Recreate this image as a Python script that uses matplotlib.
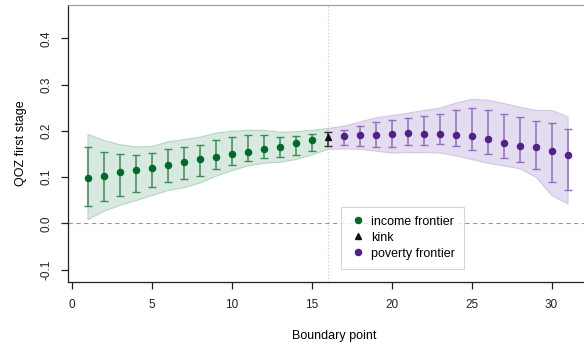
import matplotlib.pyplot as plt
import numpy as np

# boundary points
income_x = list(range(1, 16))
kink_x = [16]
poverty_x = list(range(17, 32))

# point estimates
income_est = [0.098, 0.102, 0.110, 0.115, 0.120, 0.127, 0.133, 0.139, 0.144,
              0.149, 0.154, 0.160, 0.166, 0.173, 0.180]
kink_est = [0.187]
poverty_est = [0.188, 0.190, 0.191, 0.193, 0.195, 0.193, 0.192, 0.191, 0.189,
               0.183, 0.174, 0.168, 0.165, 0.156, 0.147]

# error bar bounds
income_hi = [0.166, 0.155, 0.150, 0.148, 0.151, 0.161, 0.165, 0.170, 0.180,
             0.187, 0.190, 0.190, 0.187, 0.189, 0.194]
income_lo = [0.037, 0.049, 0.058, 0.068, 0.078, 0.089, 0.095, 0.102, 0.117,
             0.126, 0.135, 0.141, 0.143, 0.147, 0.156]
kink_hi = [0.198]
kink_lo = [0.167]
poverty_hi = [0.202, 0.210, 0.219, 0.223, 0.227, 0.231, 0.236, 0.245, 0.250,
              0.246, 0.236, 0.229, 0.221, 0.217, 0.203]
poverty_lo = [0.169, 0.168, 0.165, 0.164, 0.169, 0.170, 0.171, 0.167, 0.158,
              0.150, 0.142, 0.133, 0.118, 0.089, 0.071]

# shaded bands
income_band_x = list(range(1, 17))
income_band_hi = [0.193, 0.180, 0.171, 0.166, 0.167, 0.177, 0.182, 0.187, 0.196,
                  0.200, 0.202, 0.202, 0.198, 0.199, 0.202, 0.206]
income_band_lo = [0.009, 0.027, 0.040, 0.050, 0.061, 0.072, 0.078, 0.088, 0.103,
                  0.115, 0.125, 0.131, 0.133, 0.139, 0.149, 0.161]
poverty_band_x = list(range(16, 32))
poverty_band_hi = [0.206, 0.211, 0.220, 0.229, 0.234, 0.239, 0.245, 0.250, 0.261,
                   0.269, 0.267, 0.260, 0.252, 0.245, 0.245, 0.231]
poverty_band_lo = [0.161, 0.162, 0.161, 0.157, 0.153, 0.154, 0.154, 0.153, 0.147,
                   0.139, 0.131, 0.125, 0.119, 0.101, 0.061, 0.043]

green = "#00692b"
green_bar = "#3d8a5c"
green_fill = "#d8eadf"
purple = "#4e2385"
purple_bar = "#8f6fc0"
purple_fill = "#e4dcef"

plt.rcParams["font.family"] = ["Liberation Sans", "DejaVu Sans"]

fig = plt.figure(figsize=(5.84, 3.47), dpi=100)
ax = fig.add_axes([68 / 584, 65 / 347, 532 / 584, 277 / 347])

ax.fill_between(income_band_x, income_band_lo, income_band_hi,
                facecolor=green_fill, edgecolor="#b5d6c2", linewidth=0.8, zorder=1)
ax.fill_between(poverty_band_x, poverty_band_lo, poverty_band_hi,
                facecolor=purple_fill, edgecolor="#d2c6e4", linewidth=0.8, zorder=1)

ax.axhline(0, color="#999999", linestyle=(0, (4, 3)), linewidth=0.8, zorder=0)
ax.axvline(16, color="#cccccc", linestyle=":", linewidth=0.9, zorder=0)

def draw(x, est, lo, hi, c_pt, c_bar, marker, label):
    err = [np.array(est) - np.array(lo), np.array(hi) - np.array(est)]
    ax.errorbar(x, est, yerr=err, fmt="none", ecolor=c_bar, elinewidth=1.1,
                capsize=2.8, capthick=1.0, zorder=2)
    ax.plot(x, est, linestyle="", marker=marker, color=c_pt, markersize=4.4,
            label=label, zorder=3)

draw(income_x, income_est, income_lo, income_hi, green, green_bar, "o", "income frontier")
draw(kink_x, kink_est, kink_lo, kink_hi, "#111111", "#333333", "^", "kink")
draw(poverty_x, poverty_est, poverty_lo, poverty_hi, purple, purple_bar, "o", "poverty frontier")

ax.set_xlim(-0.22, 33.03)
ax.set_ylim(-0.127, 0.472)
ax.set_xticks([0, 5, 10, 15, 20, 25, 30])
ax.set_yticks([-0.1, 0.0, 0.1, 0.2, 0.3, 0.4])
ax.set_yticklabels(["-0.1", "0.0", "0.1", "0.2", "0.3", "0.4"], rotation=90, va="center")
ax.tick_params(axis="both", length=5, width=0.9, labelsize=8.5, colors="#222222")
ax.tick_params(axis="x", pad=7)
ax.tick_params(axis="y", pad=6)

for side in ["left", "bottom"]:
    ax.spines[side].set_color("#222222")
    ax.spines[side].set_linewidth(0.9)
ax.spines["top"].set_color("#999999")
ax.spines["right"].set_visible(False)

ax.set_xlabel("Boundary point", fontsize=9, labelpad=14)
ax.set_ylabel("QOZ first stage", fontsize=9, labelpad=10)

leg = ax.legend(loc="upper left", bbox_to_anchor=(341 / 584, 1 - 207 / 347),
                bbox_transform=fig.transFigure, fontsize=9, frameon=True,
                fancybox=False, handletextpad=0.4, handlelength=1.3,
                borderpad=0.7, labelspacing=0.32, markerscale=1.0,
                borderaxespad=0)
leg.get_frame().set_edgecolor("#cccccc")
leg.get_frame().set_linewidth(0.8)

fig.savefig("out.png", dpi=100)
